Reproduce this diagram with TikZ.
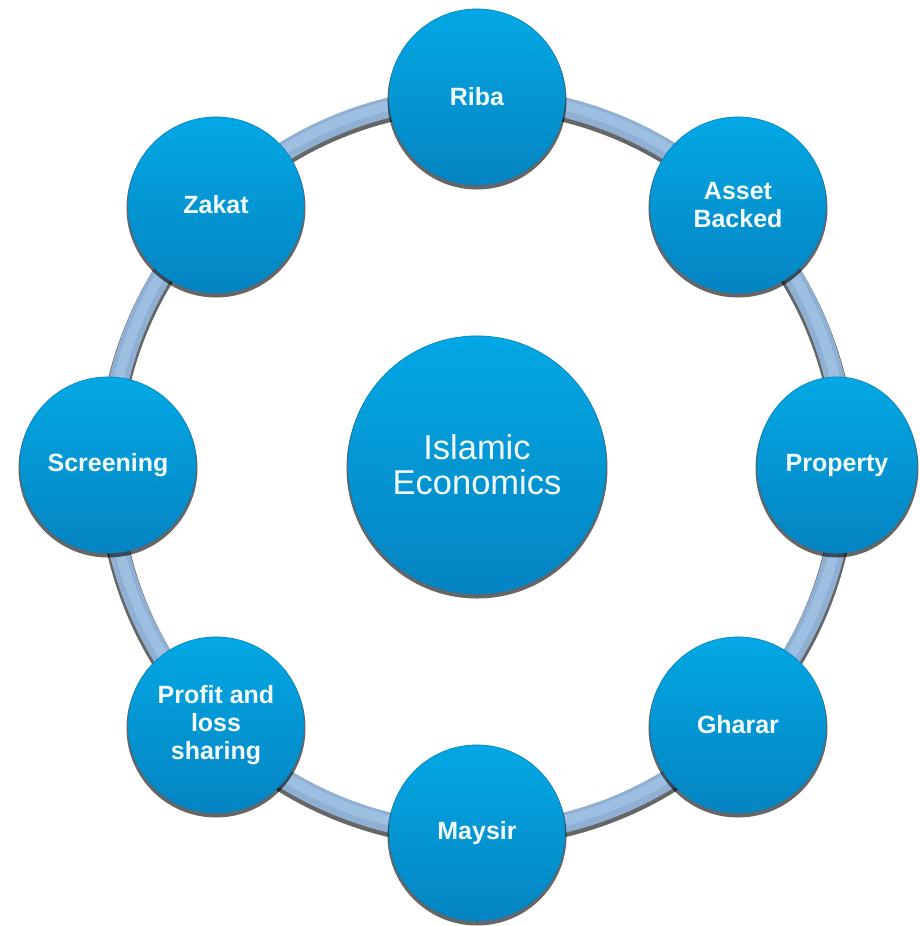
\documentclass[tikz,border=0pt]{standalone}
\usepackage{fontspec}
\setmainfont{Liberation Sans}
\usetikzlibrary{shapes.geometric}
\definecolor{ctop}{HTML}{03A8E4}
\definecolor{cbot}{HTML}{0584C2}
\definecolor{ringc}{HTML}{8FB0D2}
\definecolor{ringhi}{HTML}{9DC0E2}
\definecolor{txt}{HTML}{F2FBFF}
\tikzset{
  bubble/.style={shape=ellipse, inner sep=0pt, minimum width=1.76cm, minimum height=1.76cm,
    top color=ctop, bottom color=cbot, draw=cbot, line width=0.2pt,
    text=txt, align=center, font=\fontsize{7.1}{7.9}\selectfont\bfseries},
  hub/.style={bubble, minimum width=2.58cm, minimum height=2.58cm,
    font=\fontsize{9.8}{10}\selectfont},
  shade/.style={fill=black, opacity=0.6},
}
\begin{document}
\begin{tikzpicture}[x=0.01cm,y=-0.01cm]
\useasboundingbox (0,0) rectangle (920,926);
\clip (0,0) rectangle (920,926);
% ring
\draw[black, opacity=0.6, line width=0.23cm] (477,468) circle (368);
\draw[ringc, line width=0.2cm] (477,465) circle (368);
\draw[ringhi, line width=0.1cm] (477,463) circle (368);
% shadows
\foreach \x/\y/\r in {477/97/89.5, 738/205/89.5, 738/725/89.5, 477/833/89.5, 216/725/89.5, 108/465/89.5, 216/205/89.5, 477/465/130.5}
  \fill[shade] (\x,\y+3) circle (\r);
\fill[shade] (837,468) ellipse (81.5 and 89.5);
% nodes
\node[hub] (c) at (477,465) {Islamic\\Economics};
\node[bubble] (riba) at (477,97) {Riba};
\node[bubble] (asset) at (738,205) {Asset\\Backed};
\node[bubble, minimum width=1.6cm] (prop) at (837,465) {Property};
\node[bubble] (gharar) at (738,725) {Gharar};
\node[bubble] (maysir) at (477,833) {Maysir};
\node[bubble] (profit) at (216,725) {Profit and\\loss\\sharing};
\node[bubble] (screen) at (108,465) {Screening};
\node[bubble] (zakat) at (216,205) {Zakat};
\end{tikzpicture}
\end{document}
